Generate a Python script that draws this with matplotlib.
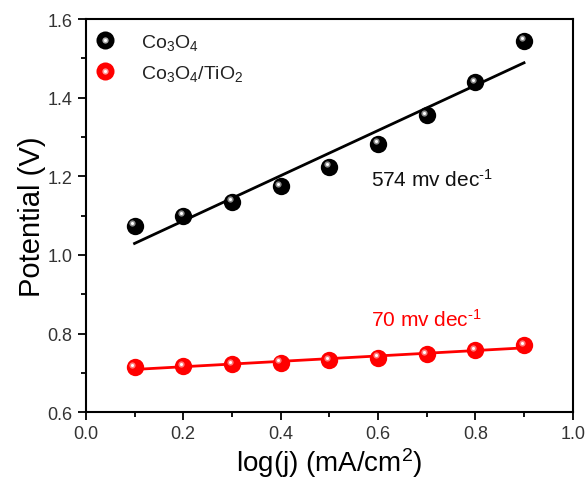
import numpy as np
import matplotlib
matplotlib.use('Agg')
from matplotlib import pyplot as plt
from matplotlib import transforms
from matplotlib.ticker import MultipleLocator
from matplotlib.legend_handler import HandlerTuple
from matplotlib.lines import Line2D

plt.rcParams['font.family'] = ['Liberation Sans', 'DejaVu Sans']
plt.rcParams['mathtext.fontset'] = 'custom'
plt.rcParams['mathtext.rm'] = 'Liberation Sans'
plt.rcParams['mathtext.it'] = 'Liberation Sans'

# log(j) values and measured potentials
logJ = [0.1, 0.2, 0.3, 0.4, 0.5, 0.6, 0.7, 0.8, 0.9]
potCo3O4 = [1.075, 1.100, 1.135, 1.175, 1.225, 1.283, 1.355, 1.440, 1.545]
potCo3O4TiO2 = [0.714, 0.717, 0.722, 0.726, 0.732, 0.739, 0.748, 0.758, 0.770]
labels = ['Co$_3$O$_4$', 'Co$_3$O$_4$/TiO$_2$']
slopeTexts = ['574 mv dec$^{\\text{-1}}$', '70 mv dec$^{\\text{-1}}$']


def glow(color):
    return '#b0b0b0' if color == 'black' else '#ff9a9a'


def sphere(ax, x, y, color):
    # base ball + shiny highlight offset up-left
    ax.plot(x, y, 'o', color=color, markersize=12.5, markeredgewidth=0, zorder=4)
    hl = transforms.offset_copy(ax.transData, fig=ax.figure, x=-1.6, y=1.8, units='points')
    ax.plot(x, y, 'o', color=glow(color), markersize=4.5,
            markeredgewidth=0, alpha=0.8, transform=hl, zorder=5)
    ax.plot(x, y, 'o', color='white', markersize=2.2, markeredgewidth=0, transform=hl, zorder=6)


fig = plt.figure(figsize=(5.88, 4.81), dpi=100)
ax = fig.add_axes([0.146, 0.141, 0.828, 0.817])

x = np.array(logJ)
for pot, col in [(potCo3O4, 'black'), (potCo3O4TiO2, '#ff0000')]:
    p = np.polyfit(x, pot, 1)
    ax.plot(x, np.polyval(p, x), color=col, linewidth=2, zorder=3)

sphere(ax, logJ, potCo3O4, 'black')
sphere(ax, logJ, potCo3O4TiO2, '#ff0000')

ax.text(0.586, 1.193, slopeTexts[0], fontsize=15, color='#111111', va='center')
ax.text(0.586, 0.837, slopeTexts[1], fontsize=15, color='#ff0000', va='center')

handles = []
for col in ['black', '#ff0000']:
    handles.append((Line2D([], [], marker='o', ls='', color=col, markersize=13, markeredgewidth=0),
                    Line2D([], [], marker='o', ls='', color=glow(col), markersize=4.5, markeredgewidth=0),
                    Line2D([], [], marker='o', ls='', color='white', markersize=2.2, markeredgewidth=0)))
leg = ax.legend(handles, labels, loc='upper left', frameon=False, fontsize=14,
                handler_map={tuple: HandlerTuple(ndivide=1, pad=0)},
                handlelength=0.7, handletextpad=1.5, borderaxespad=0.25, labelspacing=0.55)
for t in leg.get_texts():
    t.set_color('#222222')

ax.set_xlim(0.0, 1.0)
ax.set_ylim(0.6, 1.6)
ax.xaxis.set_major_locator(MultipleLocator(0.2))
ax.xaxis.set_minor_locator(MultipleLocator(0.1))
ax.yaxis.set_major_locator(MultipleLocator(0.2))
ax.yaxis.set_minor_locator(MultipleLocator(0.1))
ax.tick_params(which='both', direction='out', top=False, right=False, labelsize=13,
               width=1.3, colors='black')
ax.tick_params(axis='both', labelcolor='#333333')
ax.tick_params(which='major', length=6)
ax.tick_params(which='minor', length=3.5)
for s in ax.spines.values():
    s.set_linewidth(1.5)

ax.set_xlabel('log(j) (mA/cm$^2$)', fontsize=20, labelpad=2)
ax.set_ylabel('Potential (V)', fontsize=21, labelpad=1)

plt.savefig('out.png', dpi=100)
plt.close()
